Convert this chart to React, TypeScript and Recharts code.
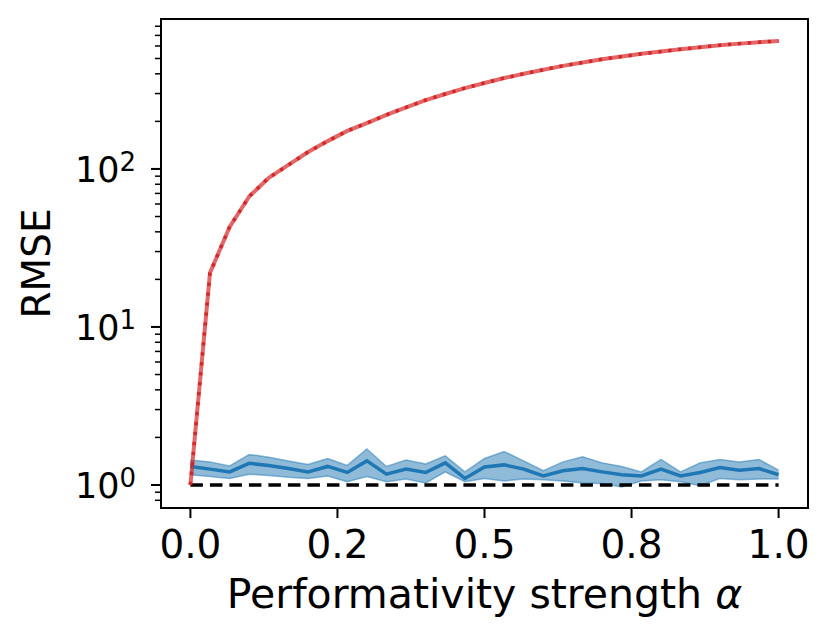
import { ComposedChart, Line, Area, XAxis, YAxis, ReferenceArea, Label } from "recharts"

// performativity strength, 31 steps from 0 to 1
const alphas = [
  0, 0.0333, 0.0667, 0.1, 0.1333, 0.1667, 0.2, 0.2333, 0.2667, 0.3, 0.3333,
  0.3667, 0.4, 0.4333, 0.4667, 0.5, 0.5333, 0.5667, 0.6, 0.6333, 0.6667,
  0.7, 0.7333, 0.7667, 0.8, 0.8333, 0.8667, 0.9, 0.9333, 0.9667, 1,
]

const naiveRmse = [
  1, 22, 43, 67, 88, 106, 128, 150, 174, 195, 220, 245, 273, 298, 325, 350,
  376, 400, 424, 449, 471, 495, 514, 535, 553, 572, 589, 607, 621, 634, 646,
]

const meanRmse = [
  1.31, 1.26, 1.21, 1.37, 1.33, 1.27, 1.21, 1.31, 1.2, 1.42, 1.17, 1.26, 1.2,
  1.38, 1.1, 1.3, 1.34, 1.26, 1.14, 1.23, 1.27, 1.21, 1.16, 1.14, 1.26, 1.14,
  1.2, 1.29, 1.24, 1.27, 1.16,
]
const upperRmse = [
  1.44, 1.4, 1.32, 1.56, 1.5, 1.42, 1.35, 1.47, 1.33, 1.69, 1.31, 1.44, 1.36,
  1.53, 1.21, 1.47, 1.63, 1.42, 1.23, 1.4, 1.51, 1.38, 1.31, 1.21, 1.45, 1.21,
  1.38, 1.45, 1.4, 1.45, 1.24,
]
const lowerRmse = [
  1.16, 1.13, 1.1, 1.17, 1.15, 1.12, 1.1, 1.14, 1.05, 1.13, 1.05, 1.09, 1.03,
  1.21, 1.05, 1.1, 1.06, 1.09, 1.08, 1.06, 1.03, 1.02, 0.97, 1.06, 1.08, 1.05,
  0.99, 1.1, 1.08, 1.09, 1.09,
]
const optimum = alphas.map(() => 1)

const xTicks = [0, 0.25, 0.5, 0.75, 1]
const xTickLabels = ["0.0", "0.2", "0.5", "0.8", "1.0"]
const yMajor = [1, 10, 100]
const yMinor = [
  0.8, 0.9, 2, 3, 4, 5, 6, 7, 8, 9, 20, 30, 40, 50, 60, 70, 80, 90,
  200, 300, 400, 500, 600, 700, 800,
]

const data = alphas.map((a, i) => ({
  alpha: a,
  naive: naiveRmse[i],
  mean: meanRmse[i],
  band: [lowerRmse[i], upperRmse[i]],
  opt: optimum[i],
}))

const FONT = "DejaVu Sans"
const X_DOMAIN: [number, number] = [-0.05, 1.05]
const Y_DOMAIN: [number, number] = [0.715, 889]

const XTick = (props: any) => {
  const { x, y, payload } = props
  const idx = xTicks.indexOf(payload.value)
  return (
    <g>
      <line x1={x} x2={x} y1={y} y2={y + 10} stroke="#000" strokeWidth={2} />
      <text x={x} y={y + 50} textAnchor="middle" fontFamily={FONT} fontSize={39} fill="#000">
        {xTickLabels[idx]}
      </text>
    </g>
  )
}

const YTick = (props: any) => {
  const { x, y, payload } = props
  const major = yMajor.includes(payload.value)
  if (!major) {
    return <line x1={x - 6} x2={x} y1={y} y2={y} stroke="#000" strokeWidth={1.5} />
  }
  const exp = Math.round(Math.log10(payload.value))
  return (
    <g>
      <line x1={x - 10} x2={x} y1={y} y2={y} stroke="#000" strokeWidth={2} />
      <text x={x - 25} y={y + 13} textAnchor="end" fontFamily={FONT} fontSize={35} fill="#000">
        <tspan>10</tspan>
        <tspan dy={-11} fontSize={26}>{exp}</tspan>
      </text>
    </g>
  )
}

export default function App() {
  return (
    <div style={{ position: "absolute", left: 0, top: 0, background: "#fff" }}>
      <ComposedChart width={831} height={640} data={data} margin={{ top: 19, right: 23, bottom: 0, left: 0 }}>
        <XAxis
          dataKey="alpha"
          type="number"
          domain={X_DOMAIN}
          ticks={xTicks}
          interval={0}
          axisLine={false}
          tickLine={false}
          tickSize={0}
          tickMargin={0}
          height={132}
          tick={<XTick />}
        >
          <Label
            content={({ viewBox }: any) => (
              <text
                x={viewBox.x + viewBox.width / 2}
                y={viewBox.y + 100}
                textAnchor="middle"
                fontFamily={FONT}
                fontSize={41}
                fill="#000"
              >
                Performativity strength <tspan fontStyle="italic">α</tspan>
              </text>
            )}
          />
        </XAxis>
        <YAxis
          type="number"
          scale="log"
          domain={Y_DOMAIN}
          allowDataOverflow
          ticks={[...yMinor, ...yMajor].sort((a, b) => a - b)}
          interval={0}
          axisLine={false}
          tickLine={false}
          tickSize={0}
          tickMargin={0}
          width={161}
          tick={<YTick />}
        >
          <Label
            content={() => (
              <text
                x={50}
                y={263.5}
                transform="rotate(-90, 50, 263.5)"
                textAnchor="middle"
                fontFamily={FONT}
                fontSize={39}
                fill="#000"
              >
                RMSE
              </text>
            )}
          />
        </YAxis>

        <Area
          dataKey="band"
          type="linear"
          fill="#1f77b4"
          fillOpacity={0.5}
          stroke="#1f77b4"
          strokeOpacity={0.5}
          strokeWidth={1.5}
          isAnimationActive={false}
        />
        <Line dataKey="mean" type="linear" stroke="#1f77b4" strokeWidth={3.5} dot={false} isAnimationActive={false} />
        <Line
          dataKey="opt"
          type="linear"
          stroke="#000"
          strokeWidth={3.5}
          strokeDasharray="12.5 7"
          dot={false}
          isAnimationActive={false}
        />
        <Line
          dataKey="naive"
          type="linear"
          stroke="#d62728"
          strokeOpacity={0.7}
          strokeWidth={4}
          dot={false}
          isAnimationActive={false}
        />
        <Line
          dataKey="naive"
          type="linear"
          stroke="#d62728"
          strokeWidth={3.5}
          strokeDasharray="3.3 6.7"
          dot={false}
          isAnimationActive={false}
        />
        <ReferenceArea
          x1={X_DOMAIN[0]}
          x2={X_DOMAIN[1]}
          y1={Y_DOMAIN[0]}
          y2={Y_DOMAIN[1]}
          fill="none"
          stroke="#000"
          strokeWidth={2}
          ifOverflow="visible"
        />
      </ComposedChart>
    </div>
  )
}
